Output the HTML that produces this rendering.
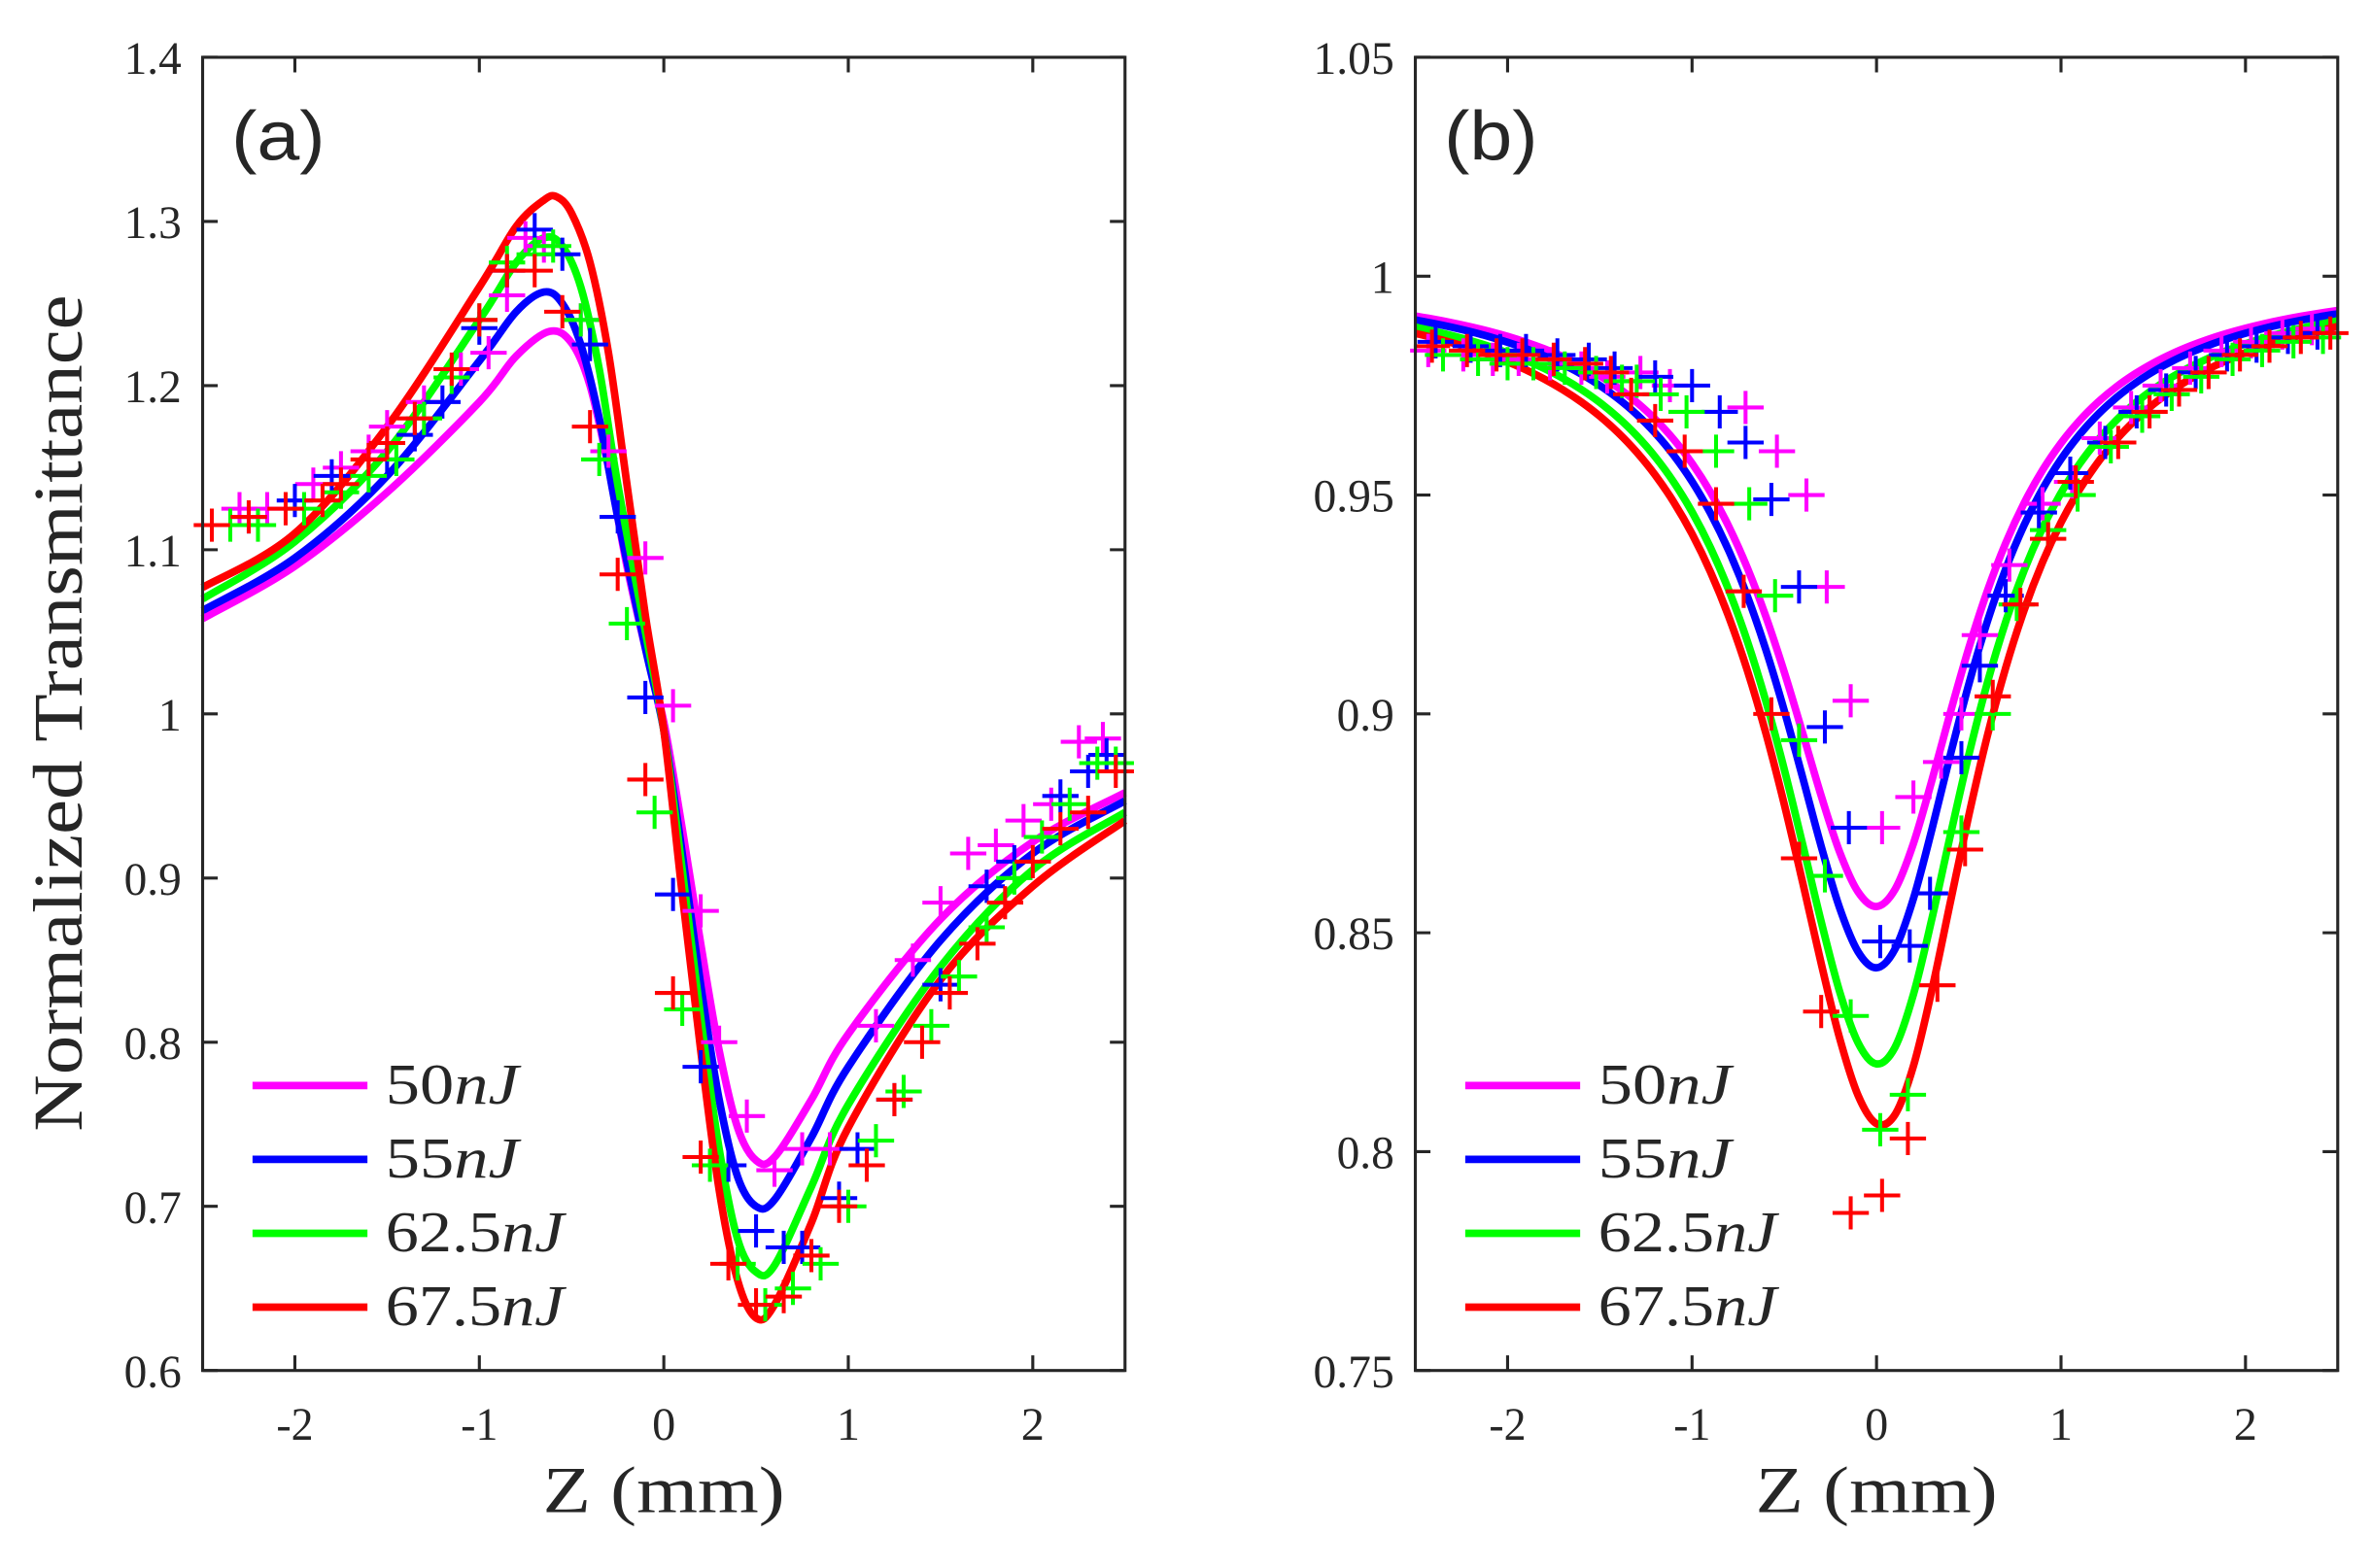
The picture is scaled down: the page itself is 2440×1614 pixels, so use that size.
<!DOCTYPE html>
<html><head><meta charset="utf-8"><style>
html,body{margin:0;padding:0;background:#fff;}
svg{display:block;}
text{font-family:"Liberation Serif",serif;fill:#262626;}
</style></head><body>
<svg id="s" width="2440" height="1614" viewBox="0 0 1568 1040" preserveAspectRatio="none" xmlns="http://www.w3.org/2000/svg"></svg>
<script>
var NS="http://www.w3.org/2000/svg",S=document.getElementById('s');
function el(t,a,txt){var e=document.createElementNS(NS,t);for(var k in a)e.setAttribute(k,a[k]);if(txt!=null)e.textContent=txt;S.appendChild(e);return e;}
function tw(s){var w=0;for(var i=0;i<s.length;i++){var c=s[i];w+=(c=='.')?7:(c=='-')?9:15.5;}return w;}
var cols={m:"#ff00ff",b:"#0000ff",g:"#00ff00",r:"#ff0000"};
function panel(P){
  var X=function(z){return P.x0+(z+2.5)*122;};
  var Y=function(t){return 38+(P.ymax-t)*871/(P.ymax-P.ymin);};
  ["m","b","g","r"].forEach(function(k){
    var pts=P.curves[k].map(function(p){return [X(p[0]),Y(p[1])];});
    var d="M"+pts[0][0]+","+pts[0][1];
    for(var i=0;i<pts.length-1;i++){
      var p0=pts[i-1]||pts[i],p1=pts[i],p2=pts[i+1],p3=pts[i+2]||p2;
      var c1=[p1[0]+(p2[0]-p0[0])/6,p1[1]+(p2[1]-p0[1])/6],c2=[p2[0]-(p3[0]-p1[0])/6,p2[1]-(p3[1]-p1[1])/6];
      d+=" C"+c1+" "+c2+" "+p2;
    }
    el("path",{d:d,fill:"none",stroke:cols[k],"stroke-width":5,"stroke-linejoin":"round"});
  });
  ["m","b","g","r"].forEach(function(k){
    P.marks[k].forEach(function(p){var x=X(p[0]),y=Y(p[1]);
      if(x<P.x0||x>P.x0+610)return;
      el("path",{d:"M"+(x-12)+","+y+"H"+(x+12)+"M"+x+","+(y-11)+"V"+(y+11),stroke:cols[k],"stroke-width":2.6,fill:"none"});});
  });
  el("rect",{x:P.x0,y:38,width:610,height:871,fill:"none",stroke:"#262626","stroke-width":2});
  [-2,-1,0,1,2].forEach(function(z){var x=X(z),s=String(z);
    el("path",{d:"M"+x+",909V899M"+x+",38V48",stroke:"#262626","stroke-width":2});
    el("text",{x:x,y:955,"text-anchor":"middle","font-size":31,textLength:tw(s),lengthAdjust:"spacingAndGlyphs"},s);});
  P.yt.forEach(function(t){var y=Y(t[0]);
    el("path",{d:"M"+P.x0+","+y+"H"+(P.x0+10)+"M"+(P.x0+610)+","+y+"H"+(P.x0+600),stroke:"#262626","stroke-width":2});
    el("text",{x:P.x0-14,y:y+11,"text-anchor":"end","font-size":31,textLength:tw(t[1]),lengthAdjust:"spacingAndGlyphs"},t[1]);});
  el("text",{x:P.x0+305,y:1003,"text-anchor":"middle","font-size":44,textLength:160,lengthAdjust:"spacingAndGlyphs"},"Z (mm)");
  el("text",{x:P.x0+19,y:106,"font-size":46,textLength:62,lengthAdjust:"spacingAndGlyphs",style:"font-family:'Liberation Sans',sans-serif","fill":"#000"},P.lab);
  var L=[["m","50",88],["b","55",88],["g","62.5",118],["r","67.5",118]];
  L.forEach(function(l,i){var y=720+i*49;
    el("path",{d:"M"+(P.x0+33)+","+y+"H"+(P.x0+109),stroke:cols[l[0]],"stroke-width":5});
    var t=el("text",{x:P.x0+121,y:y+12,"font-size":38,textLength:l[2],lengthAdjust:"spacingAndGlyphs"},l[1]);
    var s=document.createElementNS(NS,"tspan");s.setAttribute("font-style","italic");s.textContent="nJ";t.appendChild(s);});
}
panel({x0:134,ymin:0.6,ymax:1.4,lab:"(a)",
 yt:[[0.6,"0.6"],[0.7,"0.7"],[0.8,"0.8"],[0.9,"0.9"],[1.0,"1"],[1.1,"1.1"],[1.2,"1.2"],[1.3,"1.3"],[1.4,"1.4"]],
 curves:{
 m:[[-2.5,1.058],[-2,1.09],[-1.5,1.135],[-1,1.19],[-0.8,1.218],[-0.62,1.233],[-0.5,1.226],[-0.4,1.2],[-0.3,1.15],[-0.2,1.09],[-0.1,1.04],[0,0.995],[0.1,0.93],[0.2,0.86],[0.3,0.795],[0.4,0.748],[0.5,0.728],[0.6,0.73],[0.8,0.765],[1,0.805],[1.5,0.875],[2,0.922],[2.5,0.952]],
 b:[[-2.5,1.063],[-2,1.095],[-1.5,1.145],[-1,1.215],[-0.8,1.245],[-0.65,1.257],[-0.55,1.25],[-0.45,1.225],[-0.35,1.18],[-0.25,1.12],[-0.1,1.04],[0,0.99],[0.1,0.915],[0.2,0.835],[0.3,0.765],[0.4,0.718],[0.5,0.70],[0.6,0.704],[0.8,0.742],[1,0.785],[1.5,0.862],[2,0.915],[2.5,0.947]],
 g:[[-2.5,1.07],[-2,1.105],[-1.5,1.16],[-1,1.24],[-0.8,1.275],[-0.65,1.29],[-0.55,1.285],[-0.45,1.26],[-0.35,1.21],[-0.25,1.14],[-0.1,1.05],[0,0.99],[0.1,0.905],[0.2,0.815],[0.3,0.735],[0.4,0.68],[0.5,0.66],[0.6,0.664],[0.8,0.712],[1,0.762],[1.5,0.846],[2,0.905],[2.5,0.94]],
 r:[[-2.5,1.077],[-2,1.11],[-1.5,1.175],[-1,1.26],[-0.8,1.297],[-0.65,1.313],[-0.58,1.315],[-0.5,1.305],[-0.4,1.275],[-0.3,1.22],[-0.2,1.14],[-0.1,1.06],[0,0.99],[0.1,0.89],[0.2,0.795],[0.3,0.71],[0.4,0.655],[0.5,0.632],[0.6,0.64],[0.8,0.69],[1,0.748],[1.5,0.838],[2,0.895],[2.5,0.935]]},
 marks:{
 m:[[-2.3,1.125],[-2.15,1.125],[-1.9,1.14],[-1.75,1.15],[-1.6,1.16],[-1.5,1.175],[-1.3,1.19],[-1.1,1.21],[-0.95,1.22],[-0.85,1.255],[-0.75,1.29],[-0.65,1.285],[-0.45,1.24],[-0.3,1.16],[-0.1,1.095],[0.05,1.005],[0.2,0.88],[0.3,0.8],[0.45,0.755],[0.6,0.722],[0.75,0.735],[0.9,0.735],[1.15,0.81],[1.35,0.85],[1.5,0.885],[1.65,0.915],[1.8,0.92],[1.95,0.935],[2.1,0.945],[2.25,0.983],[2.38,0.985]],
 b:[[-2.25,1.12],[-2.0,1.13],[-1.8,1.145],[-1.5,1.155],[-1.35,1.17],[-1.2,1.19],[-1.0,1.235],[-0.85,1.27],[-0.7,1.295],[-0.55,1.28],[-0.4,1.225],[-0.25,1.12],[-0.1,1.01],[0.05,0.89],[0.2,0.785],[0.35,0.725],[0.5,0.685],[0.65,0.675],[0.75,0.675],[0.95,0.705],[1.05,0.735],[1.25,0.765],[1.5,0.835],[1.75,0.895],[1.9,0.91],[2.15,0.95],[2.3,0.965],[2.4,0.975]],
 g:[[-2.35,1.115],[-2.2,1.115],[-1.95,1.125],[-1.75,1.135],[-1.6,1.145],[-1.45,1.155],[-1.3,1.18],[-1.15,1.205],[-1.0,1.24],[-0.85,1.275],[-0.7,1.28],[-0.6,1.285],[-0.45,1.24],[-0.35,1.155],[-0.2,1.055],[-0.05,0.94],[0.1,0.82],[0.25,0.725],[0.4,0.665],[0.55,0.64],[0.7,0.65],[0.85,0.665],[1.0,0.7],[1.15,0.74],[1.3,0.77],[1.45,0.81],[1.6,0.84],[1.75,0.87],[1.9,0.9],[2.05,0.925],[2.2,0.945],[2.35,0.97],[2.45,0.97]],
 r:[[-2.45,1.115],[-2.25,1.12],[-2.05,1.125],[-1.85,1.13],[-1.75,1.14],[-1.6,1.155],[-1.5,1.165],[-1.35,1.18],[-1.15,1.21],[-1.0,1.24],[-0.85,1.27],[-0.7,1.27],[-0.55,1.245],[-0.4,1.175],[-0.25,1.085],[-0.1,0.96],[0.05,0.83],[0.2,0.73],[0.35,0.665],[0.5,0.64],[0.65,0.645],[0.8,0.67],[0.95,0.7],[1.1,0.725],[1.25,0.765],[1.4,0.8],[1.55,0.83],[1.7,0.86],[1.85,0.885],[2.0,0.91],[2.15,0.93],[2.3,0.94],[2.45,0.965]]}
});
function lor(d,zl,zr,sh){var a=[];for(var z=-2.5;z<=2.501;z+=0.1){var v=z-sh,u=v/(v<0?zl:zr);a.push([z,1-d/(1+u*u)]);}return a;}
var far=[[1.21,0.962],[1.38,0.969],[1.54,0.974],[1.7,0.978],[1.87,0.982],[2.03,0.984],[2.2,0.986],[2.36,0.987]];
var left=[[-2.43,0.983],[-2.24,0.982],[-2.08,0.981],[-1.94,0.981],[-1.77,0.98],[-1.6,0.979],[-1.46,0.977]];
function sh(a,dz,dt){return a.map(function(p){return [p[0]+dz,p[1]+dt];});}
panel({x0:936,ymin:0.75,ymax:1.05,lab:"(b)",
 yt:[[0.75,"0.75"],[0.8,"0.8"],[0.85,"0.85"],[0.9,"0.9"],[0.95,"0.95"],[1.0,"1"],[1.05,"1.05"]],
 curves:{m:lor(0.144,0.65,0.6,0),b:lor(0.158,0.65,0.6,0),g:lor(0.18,0.66,0.61,0.01),r:lor(0.194,0.68,0.62,0.03)},
 marks:{
 m:left.concat([[-1.28,0.978],[-1.12,0.975],[-0.71,0.970],[-0.54,0.960],[-0.38,0.950],[-0.27,0.929],[-0.14,0.903],[0.03,0.874],[0.2,0.881],[0.35,0.889],[0.46,0.9],[0.56,0.918],[0.72,0.934],[0.9,0.948],[1.06,0.953]],sh(far,0,0.001)),
 b:sh(left,0.04,0.002).concat([[-1.2,0.977],[-1.0,0.975],[-0.85,0.969],[-0.71,0.962],[-0.57,0.949],[-0.42,0.929],[-0.28,0.897],[-0.15,0.874],[0.02,0.848],[0.18,0.847],[0.29,0.859],[0.46,0.89],[0.56,0.911],[0.7,0.927],[0.88,0.946],[1.05,0.955]],sh(far,0.03,0)),
 g:sh(left,0.08,-0.001).concat([[-1.3,0.976],[-1.17,0.973],[-1.03,0.969],[-0.87,0.96],[-0.69,0.948],[-0.55,0.927],[-0.42,0.894],[-0.28,0.863],[-0.14,0.831],[0.02,0.805],[0.17,0.813],[0.46,0.873],[0.63,0.9],[0.76,0.925],[0.93,0.942],[1.09,0.95]],sh(far,0.06,-0.001)),
 r:sh(left,0.02,0.001).concat([[-1.33,0.973],[-1.2,0.967],[-1.04,0.96],[-0.87,0.948],[-0.72,0.928],[-0.57,0.9],[-0.42,0.867],[-0.3,0.832],[-0.14,0.786],[0.03,0.79],[0.17,0.803],[0.33,0.838],[0.48,0.869],[0.63,0.904],[0.78,0.925],[0.93,0.94],[1.08,0.953]],sh(far,0.1,0))}
});
el("text",{x:0,y:0,"font-size":46,transform:"translate(54,473) rotate(-90)","text-anchor":"middle",textLength:555,lengthAdjust:"spacingAndGlyphs"},"Normalized Transmittance");
</script>
</body></html>
